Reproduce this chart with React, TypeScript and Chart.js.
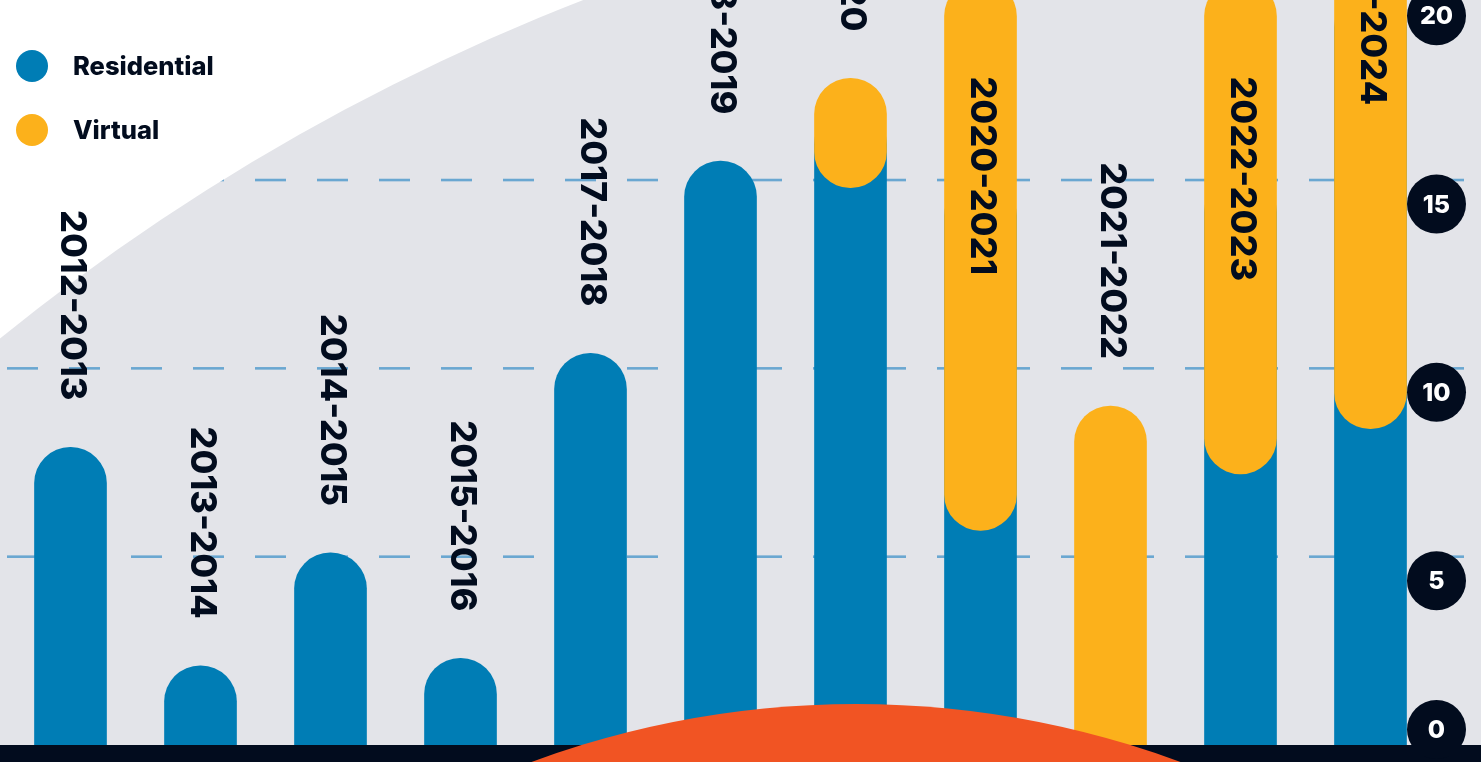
import React, { useEffect, useRef } from 'react';
import { Chart, registerables } from 'chart.js';

Chart.register(...registerables);

// ---- data ----
const categories: string[] = [
  '2012-2013', '2013-2014', '2014-2015', '2015-2016', '2017-2018', '2018-2019',
  '2019-2020', '2020-2021', '2021-2022', '2022-2023', '2023-2024',
];
const seriesNames: string[] = ['Residential', 'Virtual'];
const residential: (number | null)[] = [7.9, 2.1, 5.1, 2.3, 10.4, 15.5, 16.9, 15.0, null, 15.1, 20.0];
const virtualLow: (number | null)[] = [null, null, null, null, null, null, 14.8, 5.7, 0, 7.2, 8.4];
const virtualHigh: (number | null)[] = [null, null, null, null, null, null, 17.7, 20.3, 9.0, 20.3, 25.0];
const yTicks: number[] = [0, 5, 10, 15, 20];

// ---- style ----
const BLUE = '#007db5';
const YELLOW = '#fcb11b';
const GRAY = '#e3e4e9';
const NAVY = '#020c1e';
const ORANGE = '#f15423';
const GRID = '#6aa7d1';
const FONT = 'Inter, "Noto Sans", sans-serif';

const W = 1481;
const H = 762;

const virtualData = virtualLow.map((lo, i) =>
  lo == null || virtualHigh[i] == null ? null : [lo, virtualHigh[i] as number]
);

const backdropPlugin = {
  id: 'backdrop',
  beforeDraw(chart: any) {
    const { ctx, width, height, chartArea, scales } = chart;
    const y = scales.y;
    ctx.save();
    ctx.fillStyle = '#ffffff';
    ctx.fillRect(0, 0, width, height);
    ctx.beginPath();
    ctx.arc(1373, 2033, 2181, 0, Math.PI * 2);
    ctx.fillStyle = GRAY;
    ctx.fill();
    ctx.clip();
    ctx.setLineDash([31, 31]);
    ctx.lineDashOffset = -1.5;
    ctx.strokeStyle = GRID;
    ctx.lineWidth = 2.6;
    yTicks.filter((v) => v > 0).forEach((v) => {
      const py = y.getPixelForValue(v);
      ctx.beginPath();
      ctx.moveTo(chartArea.left, py);
      ctx.lineTo(chartArea.right + 35, py);
      ctx.stroke();
    });
    ctx.restore();

    // legend
    ctx.save();
    const colors = [BLUE, YELLOW];
    seriesNames.forEach((name, i) => {
      const cy = 66 + i * 64;
      ctx.beginPath();
      ctx.arc(32, cy, 16, 0, Math.PI * 2);
      ctx.fillStyle = colors[i];
      ctx.fill();
      ctx.fillStyle = NAVY;
      ctx.font = `800 25.5px ${FONT}`;
      ctx.textAlign = 'left';
      ctx.textBaseline = 'middle';
      ctx.fillText(name, 73, cy + 1);
    });
    ctx.restore();
  },
};

const overlayPlugin = {
  id: 'overlay',
  afterDatasetsDraw(chart: any) {
    const { ctx, width, height, chartArea, scales } = chart;
    const y = scales.y;
    ctx.save();
    // dark band
    ctx.fillStyle = NAVY;
    ctx.fillRect(0, chartArea.bottom, width, height - chartArea.bottom);
    // orange dome
    ctx.beginPath();
    ctx.arc(856, 1641, 937, 0, Math.PI * 2);
    ctx.fillStyle = ORANGE;
    ctx.fill();
    // y tick circles
    const cx = chartArea.right + 1;
    yTicks.forEach((v) => {
      let cy = y.getPixelForValue(v) + 24;
      cy = Math.min(cy, chartArea.bottom - 15.5);
      ctx.beginPath();
      ctx.arc(cx, cy, 29.5, 0, Math.PI * 2);
      ctx.fillStyle = NAVY;
      ctx.fill();
      ctx.fillStyle = '#ffffff';
      ctx.font = `800 25px ${FONT}`;
      ctx.textAlign = 'center';
      ctx.textBaseline = 'middle';
      ctx.fillText(String(v), cx, cy + 1);
    });
    // category labels
    const x = scales.x;
    categories.forEach((lab, i) => {
      const vals = [residential[i], virtualHigh[i]].filter((v) => v != null) as number[];
      if (!vals.length) return;
      const topVal = Math.max(...vals);
      const topPx = y.getPixelForValue(topVal);
      const px = x.getPixelForValue(i);
      ctx.save();
      ctx.translate(px + 1, 0);
      ctx.rotate(Math.PI / 2);
      ctx.fillStyle = NAVY;
      ctx.font = `800 36px ${FONT}`;
      ctx.textBaseline = 'middle';
      if (topVal > y.max) {
        ctx.textAlign = 'left';
        ctx.fillText(lab, topPx + 96, 0);
      } else {
        ctx.textAlign = 'right';
        ctx.fillText(lab, topPx - 47, 0);
      }
      ctx.restore();
    });
    ctx.restore();
  },
};

export default function App() {
  const ref = useRef<HTMLCanvasElement | null>(null);
  useEffect(() => {
    if (!ref.current) return;
    const R = 36;
    const chart = new Chart(ref.current, {
      type: 'bar',
      data: {
        labels: categories,
        datasets: [
          {
            label: seriesNames[0],
            data: residential as any,
            backgroundColor: BLUE,
            order: 2,
            grouped: false,
            barThickness: 72,
            borderSkipped: 'start',
            borderRadius: { topLeft: R, topRight: R, bottomLeft: 0, bottomRight: 0 },
            clip: false as any,
          } as any,
          {
            label: seriesNames[1],
            data: virtualData as any,
            backgroundColor: YELLOW,
            order: 1,
            grouped: false,
            barThickness: 72,
            borderSkipped: false,
            borderRadius: (c: any) => {
              const raw = c.raw;
              const flatBottom = Array.isArray(raw) && raw[0] === 0;
              return {
                topLeft: R,
                topRight: R,
                bottomLeft: flatBottom ? 0 : R,
                bottomRight: flatBottom ? 0 : R,
              };
            },
            clip: false as any,
          } as any,
        ],
      },
      options: {
        responsive: false,
        animation: false,
        layout: { padding: { left: 5.5, right: 45.5, top: 0, bottom: 17 } },
        scales: {
          x: { display: false },
          y: { display: false, min: 0, max: 19.78 },
        },
        plugins: {
          legend: { display: false },
          tooltip: { enabled: false },
        },
      },
      plugins: [backdropPlugin, overlayPlugin],
    });
    return () => chart.destroy();
  }, []);

  return (
    <div style={{ position: 'fixed', left: 0, top: 0, width: W, height: H, overflow: 'hidden' }}>
      <canvas ref={ref} width={W} height={H} style={{ display: 'block', width: W, height: H }} />
    </div>
  );
}
